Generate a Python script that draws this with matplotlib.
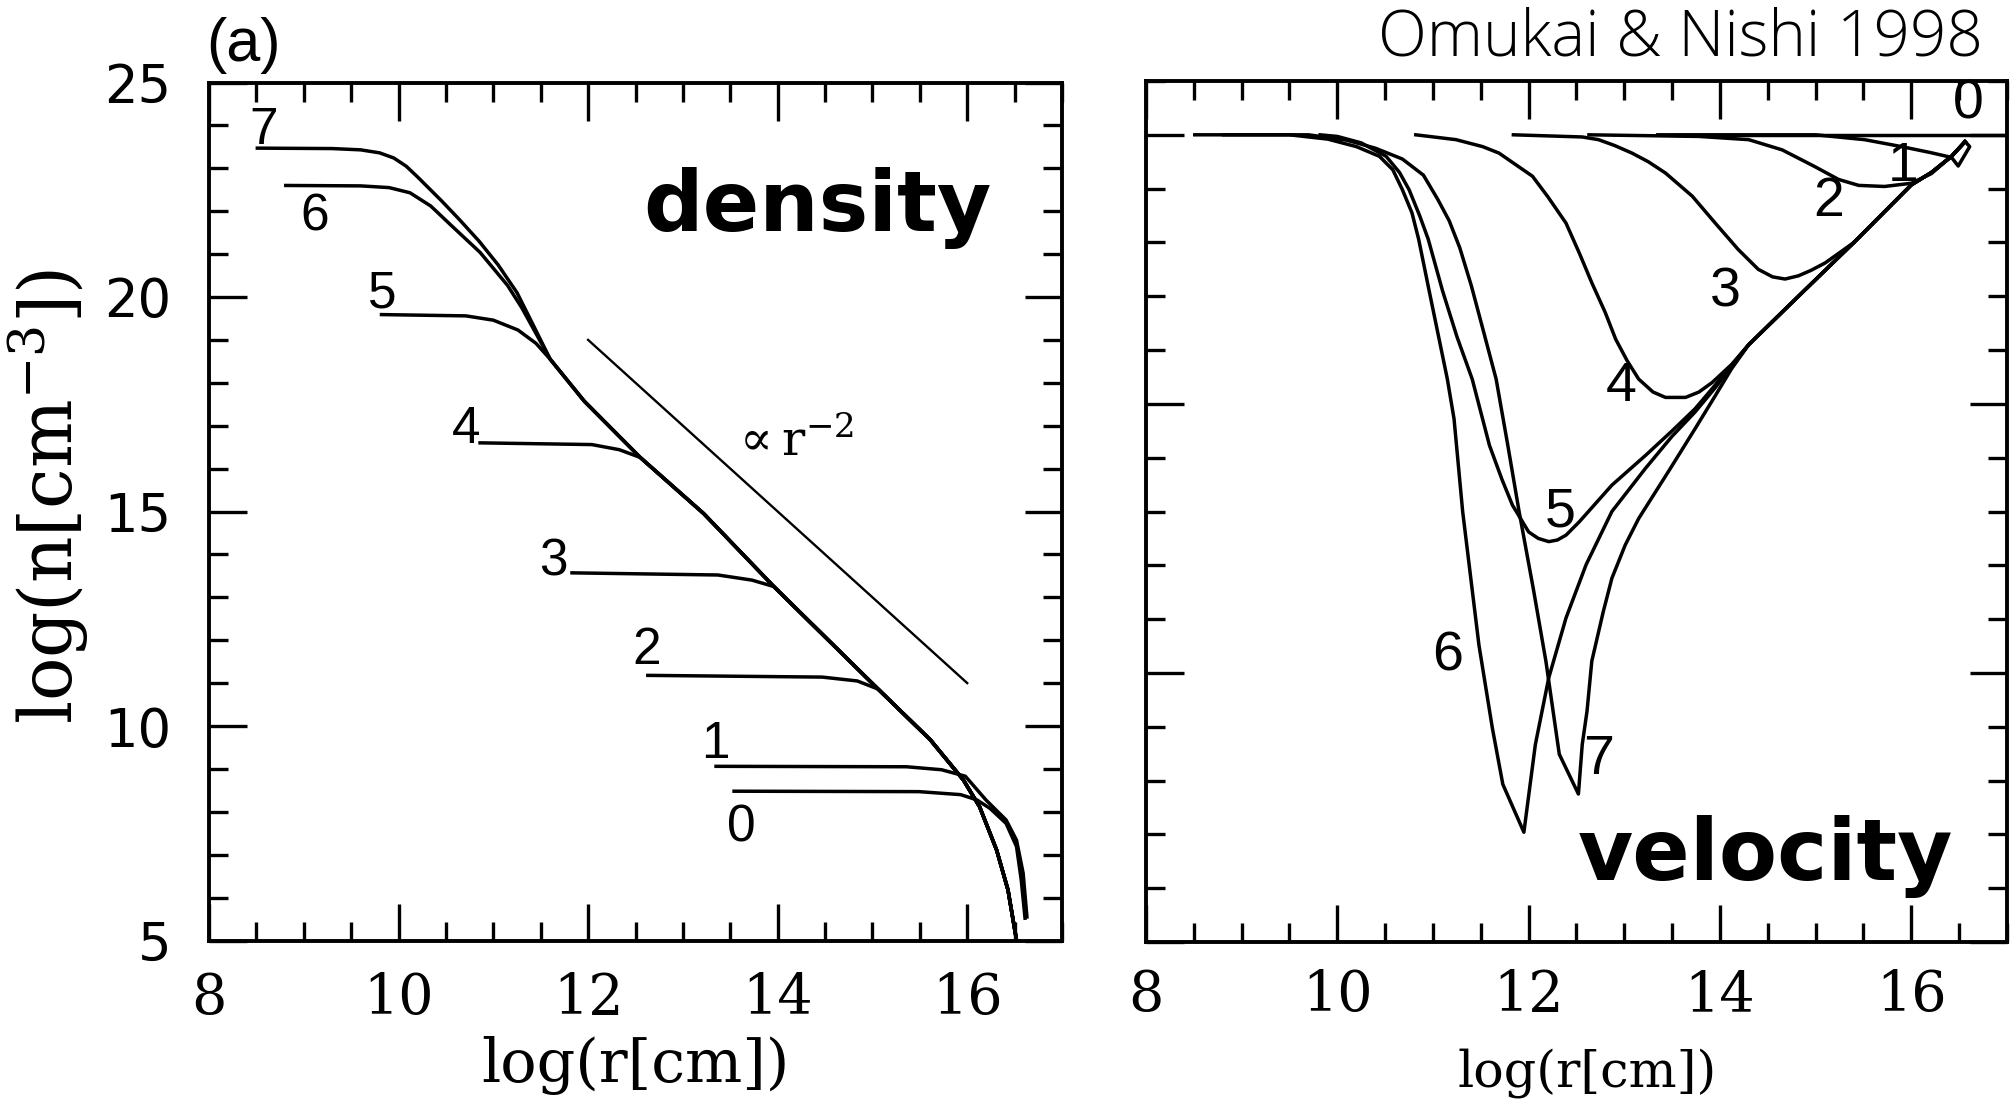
import matplotlib
matplotlib.use("Agg")
import matplotlib.pyplot as plt
from matplotlib.ticker import MultipleLocator

plt.rcParams["mathtext.fontset"] = "dejavuserif"

W, H, DPI = 2015, 1101, 100

# ---------------- density profiles: log n [cm^-3] vs log r [cm] ----------------
# common outer power-law part that the later stages join
dens_env_r = [11.60, 11.96, 12.55, 13.22, 13.96, 15.06, 15.61, 15.96, 16.13, 16.31, 16.43, 16.52]
dens_env_n = [18.55, 17.57, 16.26, 14.95, 13.25, 10.86, 9.68, 8.74, 8.12, 7.11, 6.18, 5.01]

dens_r = {
    7: [8.51, 9.30, 9.60, 9.80, 9.95, 10.08, 10.20, 10.30, 10.45, 10.64, 10.85, 11.05,
        11.25, 11.42],
    6: [8.81, 9.60, 9.90, 10.12, 10.34, 10.56, 10.86, 11.15, 11.30, 11.45],
    5: [9.82, 10.71, 11.00, 11.26, 11.45],
    4: [10.86, 12.04, 12.33],
    3: [11.83, 13.37, 13.73],
    2: [12.63, 14.47, 14.84],
    1: [13.35, 15.36, 15.73, 15.98, 16.20, 16.41, 16.52, 16.59, 16.63],
    0: [13.54, 15.49, 15.93, 16.10, 16.24, 16.41, 16.52, 16.57, 16.61],
}
dens_n = {
    7: [23.47, 23.46, 23.43, 23.36, 23.24, 23.05, 22.80, 22.58, 22.25, 21.81, 21.30, 20.75,
        20.10, 19.35],
    6: [22.60, 22.59, 22.55, 22.43, 22.12, 21.66, 21.04, 20.27, 19.75, 19.15],
    5: [19.59, 19.56, 19.46, 19.23, 18.92],
    4: [16.60, 16.56, 16.44],
    3: [13.57, 13.52, 13.40],
    2: [11.18, 11.14, 11.05],
    1: [9.06, 9.05, 8.98, 8.83, 8.27, 7.81, 7.34, 6.57, 5.55],
    0: [8.48, 8.47, 8.40, 8.28, 8.08, 7.73, 7.19, 6.41, 5.52],
}
dens_joins_env = [7, 6, 5, 4, 3, 2]

# reference slope n ∝ r^-2
slope_r = [12.0, 16.0]
slope_n = [19.0, 11.0]

# stage labels (log r, log n)
dens_lab_r = {7: 8.58, 6: 9.11, 5: 9.83, 4: 10.71, 3: 11.63, 2: 12.62, 1: 13.34, 0: 13.62}
dens_lab_n = {7: 23.87, 6: 21.87, 5: 20.08, 4: 16.92, 3: 13.82, 2: 11.77, 1: 9.56, 0: 7.62}

# ---------------- velocity profiles: v [km/s] vs log r [cm] ----------------
vel_env_r = [13.74, 13.90, 14.30, 14.82, 15.40, 16.00, 16.21, 16.42, 16.56]
vel_env_v = [-5.10, -4.70, -3.90, -3.00, -2.00, -0.93, -0.70, -0.40, -0.13]

vel_r = {
    7: [8.51, 9.70, 10.10, 10.40, 10.68, 10.90, 11.05, 11.17, 11.28, 11.40, 11.52, 11.66,
        11.78, 11.90, 12.05, 12.18, 12.32, 12.52, 12.56, 12.61, 12.66, 12.78, 12.87, 13.01,
        13.15, 13.46, 13.74, 13.95, 14.12],
    6: [8.81, 9.50, 9.90, 10.20, 10.44, 10.58, 10.68, 10.78, 10.85, 10.96, 11.15, 11.22,
        11.31, 11.48, 11.62, 11.73, 11.95, 12.07, 12.21, 12.39, 12.60, 12.87, 13.22, 13.50,
        13.74, 13.95],
    5: [9.82, 10.00, 10.25, 10.51, 10.65, 10.75, 10.86, 10.95, 11.10, 11.25, 11.41, 11.59,
        11.72, 11.83, 12.00, 12.10, 12.21, 12.30, 12.39, 12.53, 12.70, 12.87, 13.22, 13.50,
        13.74, 13.95],
    4: [10.82, 11.24, 11.52, 11.69, 12.04, 12.20, 12.39, 12.53, 12.66, 12.80, 12.91, 13.03,
        13.15, 13.30, 13.43, 13.64, 13.78, 13.92, 14.12],
    3: [11.84, 12.56, 12.73, 12.90, 13.08, 13.25, 13.43, 13.71, 13.95, 14.19, 14.40, 14.55,
        14.68, 14.82, 14.95, 15.10],
    2: [12.63, 13.78, 14.30, 14.65, 14.99, 15.24, 15.45, 15.72, 16.00, 16.21],
    1: [13.35, 15.00, 15.51, 15.90, 16.20, 16.42, 16.49, 16.61, 16.56],
    0: [13.54, 17.00],
}
vel_v = {
    7: [0.00, 0.00, -0.10, -0.25, -0.45, -0.75, -1.20, -1.60, -2.10, -2.80, -3.60, -4.54,
        -5.75, -7.00, -8.45, -9.78, -11.51, -12.25, -11.33, -10.71, -9.78, -8.86, -8.24, -7.62,
        -7.13, -6.26, -5.46, -4.85, -4.35],
    6: [0.00, 0.00, -0.08, -0.22, -0.40, -0.65, -1.02, -1.45, -1.94, -2.90, -4.54, -5.28,
        -7.00, -9.48, -11.02, -12.07, -12.96, -11.33, -10.09, -8.98, -7.99, -7.00, -6.20, -5.60,
        -5.15, -4.70],
    5: [0.00, -0.03, -0.15, -0.40, -0.70, -1.02, -1.50, -1.94, -2.90, -3.75, -4.54, -5.77,
        -6.40, -6.88, -7.38, -7.50, -7.56, -7.53, -7.44, -7.19, -6.85, -6.51, -5.96, -5.50,
        -5.09, -4.65],
    4: [0.00, -0.09, -0.22, -0.34, -0.77, -1.15, -1.64, -2.20, -2.75, -3.30, -3.80, -4.20,
        -4.54, -4.78, -4.88, -4.88, -4.78, -4.60, -4.27],
    3: [0.00, -0.04, -0.09, -0.20, -0.34, -0.50, -0.71, -1.14, -1.64, -2.13, -2.50, -2.64,
        -2.68, -2.62, -2.52, -2.38],
    2: [0.00, -0.03, -0.09, -0.28, -0.59, -0.83, -0.94, -0.96, -0.90, -0.72],
    1: [0.00, 0.00, -0.09, -0.22, -0.33, -0.42, -0.58, -0.22, -0.12],
    0: [0.00, 0.00],
}
vel_joins_env = [7, 6, 5, 4, 3, 2]

vel_lab_r = {0: 16.59, 1: 15.92, 2: 15.14, 3: 14.05, 4: 12.97, 5: 12.33, 6: 11.15, 7: 12.73}
vel_lab_v = {0: 0.56, 1: -0.59, 2: -1.24, 3: -2.93, 4: -4.69, 5: -7.02, 6: -9.69, 7: -11.61}


def join_outer(xs, ys, tail_x, tail_y):
    """Continue a profile along the shared outer solution beyond its last point."""
    xs, ys = list(xs), list(ys)
    for a, b in zip(tail_x, tail_y):
        if a > xs[-1]:
            xs.append(a)
            ys.append(b)
    return xs, ys


def style_axes(ax):
    for s in ax.spines.values():
        s.set_linewidth(2.8)
    ax.set_xlim(8, 17)
    ax.xaxis.set_major_locator(MultipleLocator(2))
    ax.xaxis.set_minor_locator(MultipleLocator(0.5))
    ax.yaxis.set_minor_locator(MultipleLocator(1))
    ax.yaxis.set_major_locator(MultipleLocator(5))
    ax.tick_params(which="both", direction="in", top=True, right=True, width=2.4)
    ax.tick_params(which="major", length=27)
    ax.tick_params(which="minor", length=14)


fig = plt.figure(figsize=(W / DPI, H / DPI), dpi=DPI)
fig.patch.set_facecolor("white")

LW = 2.5

# ---------------- left: density ----------------
ax1 = fig.add_axes([209 / W, 1 - 940.5 / H, (1062 - 209) / W, (940.5 - 82.5) / H])
style_axes(ax1)
ax1.set_ylim(5, 25)

for k in dens_r:
    xs, ys = dens_r[k], dens_n[k]
    if k in dens_joins_env:
        xs, ys = join_outer(xs, ys, dens_env_r, dens_env_n)
    ax1.plot(xs, ys, color="black", lw=LW, solid_joinstyle="round")
    ax1.text(dens_lab_r[k], dens_lab_n[k], str(k), fontsize=37, family="Liberation Sans",
             ha="center", va="center")

ax1.plot(slope_r, slope_n, color="black", lw=1.7)
ax1.text(13.50, 16.62, r"$\propto$r$^{-2}$", fontsize=35, family="DejaVu Serif",
         ha="left", va="center")

ax1.tick_params(axis="y", labelsize=38, pad=27, labelfontfamily="DejaVu Sans")
ax1.tick_params(axis="x", labelsize=40, pad=22, labelfontfamily="DejaVu Serif")
ax1.set_xlabel("log(r[cm])", fontsize=43.5, family="DejaVu Serif")
ax1.xaxis.set_label_coords(0.5, -0.146)
ax1.xaxis.label.set_va("center")
ax1.set_ylabel(r"log(n[cm$^{-3}$])", fontsize=52, family="DejaVu Serif")
ax1.yaxis.set_label_coords(-0.188, 0.517)
ax1.yaxis.label.set_va("center")

# ---------------- right: velocity ----------------
ax2 = fig.add_axes([1146 / W, 1 - 942 / H, (2007 - 1146) / W, (942 - 81) / H])
style_axes(ax2)
ax2.set_ylim(-15, 1)

for k in vel_r:
    xs, ys = vel_r[k], vel_v[k]
    if k in vel_joins_env:
        xs, ys = join_outer(xs, ys, vel_env_r, vel_env_v)
    ax2.plot(xs, ys, color="black", lw=LW, solid_joinstyle="round")
    ax2.text(vel_lab_r[k], vel_lab_v[k], str(k), fontsize=40, family="Liberation Sans",
             ha="center", va="center")

ax2.tick_params(axis="y", labelleft=False)
ax2.tick_params(axis="x", labelsize=40, pad=19, labelfontfamily="DejaVu Serif")
ax2.set_xlabel("log(r[cm])", fontsize=36.5, family="DejaVu Serif")
ax2.xaxis.set_label_coords(0.512, -0.152)
ax2.xaxis.label.set_va("center")

# ---------------- annotations ----------------
fig.text(643 / W, 1 - 231 / H, "density", fontsize=60, weight="bold",
         family="DejaVu Sans", ha="left", va="baseline")
fig.text(1578 / W, 1 - 880 / H, "velocity", fontsize=61, weight="bold",
         family="DejaVu Sans", ha="left", va="baseline")
fig.text(206 / W, 1 - 45 / H, "(a)", fontsize=44, family="Liberation Sans",
         ha="left", va="center")
fig.text(1983 / W, 1 - 55 / H, "Omukai & Nishi 1998", fontsize=46, weight="light",
         family=["Open Sans", "DejaVu Sans"], ha="right", va="baseline")

fig.savefig("out.png", dpi=DPI)
